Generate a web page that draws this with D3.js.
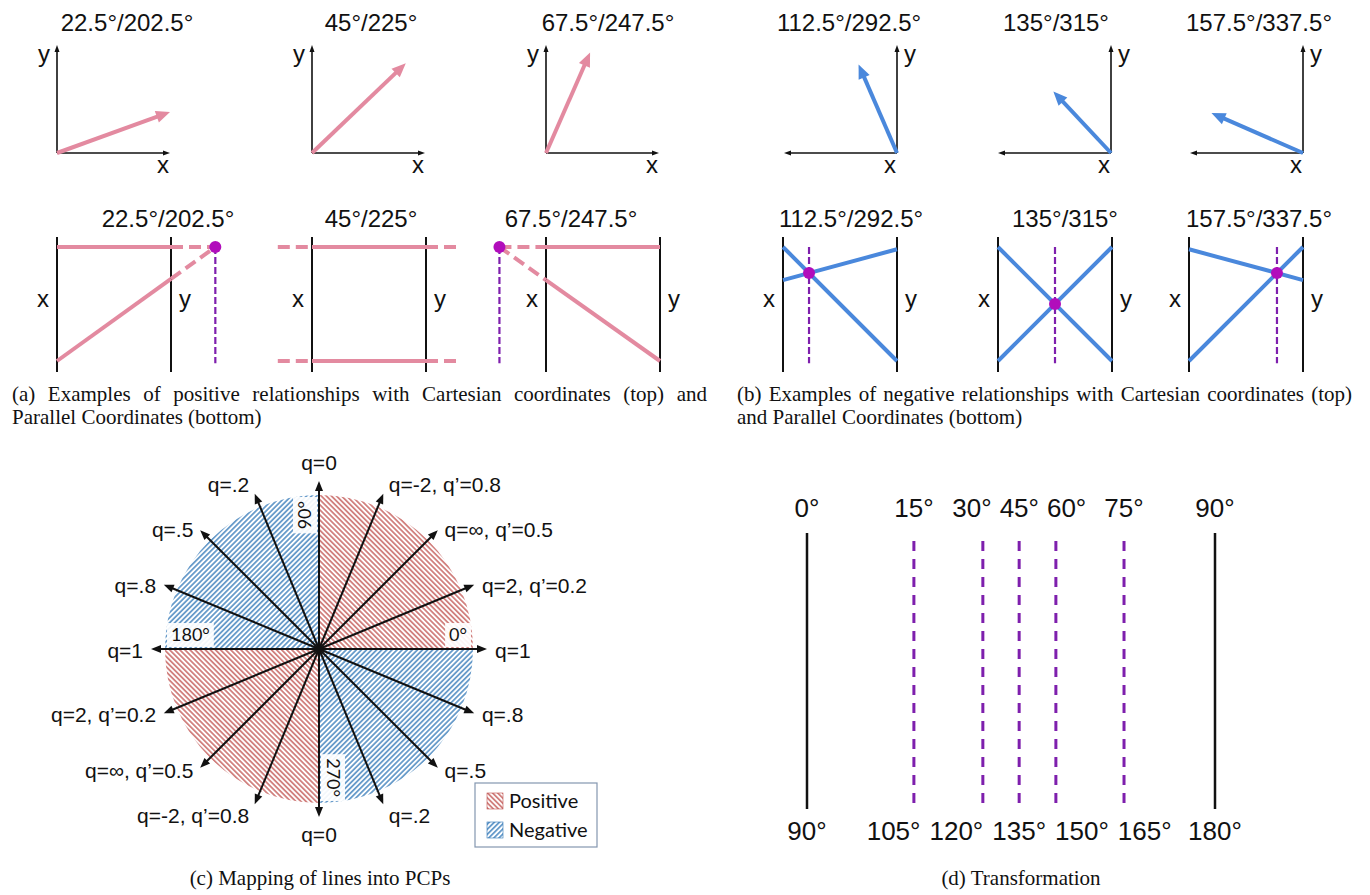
<!DOCTYPE html>
<html>
<head>
<meta charset="utf-8">
<script src="https://cdn.jsdelivr.net/npm/d3@7"></script>
<style>
  body { margin: 0; background: #fff; }
  svg text { font-family: "Liberation Sans", Arial, sans-serif; fill: #111; }
  svg text.cap { font-family: "Liberation Serif", "Times New Roman", serif; font-size: 21px; }
  svg text.cal { font-family: Lato, "Open Sans", sans-serif; }
</style>
</head>
<body>
<svg id="fig" width="1370" height="895"></svg>
<script>
// ---------- data ----------
// (a)/(b) top: vector tips in axis units (x measured along the drawn x axis, y upward)
const posTitles = ["22.5°/202.5°", "45°/225°", "67.5°/247.5°"];
const negTitles = ["112.5°/292.5°", "135°/315°", "157.5°/337.5°"];
const posTips = [[1.0, 0.38], [0.83, 0.83], [0.39, 0.93]];
const negTips = [[0.34, 0.82], [0.51, 0.57], [0.81, 0.37]];
// (a)/(b) bottom: each PCP line as [value on x axis, value on y axis]
const posLines = [[[1, 1], [0, 0.72]], [[1, 1], [0, 0]], [[1, 1], [0.71, 0]]];
const negLines = [[[1, 0], [0.71, 0.98]], [[1, 0], [0, 1]], [[0.98, 0.71], [0, 1]]];
// (c) spokes every 22.5 degrees
const spokeAngles = [0, 22.5, 45, 67.5, 90, 112.5, 135, 157.5, 180, 202.5, 225, 247.5, 270, 292.5, 315, 337.5];
const spokeLabels = ["q=1", "q=2, q’=0.2", "q=∞, q’=0.5", "q=-2, q’=0.8", "q=0", "q=.2", "q=.5", "q=.8",
                     "q=1", "q=2, q’=0.2", "q=∞, q’=0.5", "q=-2, q’=0.8", "q=0", "q=.2", "q=.5", "q=.8"];
const quadrants = [[0, 90, "pos"], [90, 180, "neg"], [180, 270, "pos"], [270, 360, "neg"]];
const quadTicks = [0, 90, 180, 270];
const quadTickSide = [1, 1, -1, 1];
const legendItems = [["Positive", "pos"], ["Negative", "neg"]];
// (d) transformation
const topDeg = ["0°", "15°", "30°", "45°", "60°", "75°", "90°"];
const botDeg = ["90°", "105°", "120°", "135°", "150°", "165°", "180°"];
const transPos = [0, 0.262, 0.431, 0.52, 0.61, 0.777, 1];

// ---------- colours ----------
const pink = "#e38aa0", blue = "#4a88dc", purple = "#7e1fad", dotCol = "#b10dbb";
const hatchRed = "#c0504d", hatchBlue = "#2e75b6";

const svg = d3.select("#fig");
const defs = svg.append("defs");

function hatch(id, color, angle) {
  const p = defs.append("pattern").attr("id", id)
    .attr("patternUnits", "userSpaceOnUse").attr("width", 3.6).attr("height", 3.6)
    .attr("patternTransform", `rotate(${angle})`);
  p.append("line").attr("x1", 1.8).attr("y1", 0).attr("x2", 1.8).attr("y2", 3.6)
    .attr("stroke", color).attr("stroke-width", 1.3);
}
hatch("pos", hatchRed, -45);
hatch("neg", hatchBlue, 45);

// arrow: shaft + filled head
function arrow(g, x1, y1, x2, y2, color, width, len, wid) {
  const a = Math.atan2(y2 - y1, x2 - x1), c = Math.cos(a), s = Math.sin(a);
  g.append("line").attr("x1", x1).attr("y1", y1)
    .attr("x2", x2 - c * len * 0.6).attr("y2", y2 - s * len * 0.6)
    .attr("stroke", color).attr("stroke-width", width);
  const bx = x2 - c * len, by = y2 - s * len, px = -s * wid / 2, py = c * wid / 2;
  g.append("path").attr("d", `M${x2},${y2}L${bx + px},${by + py}L${bx - px},${by - py}Z`)
    .attr("fill", color);
}

function label(g, x, y, txt, size, anchor) {
  return g.append("text").attr("x", x).attr("y", y).attr("font-size", size)
    .attr("text-anchor", anchor || "middle").text(txt);
}

// ---------- (a)/(b) top: Cartesian vectors ----------
function cartesian(ox, dir, tip, color, title, titleX) {
  const g = svg.append("g");
  const xs = d3.scaleLinear().domain([0, 1]).range([ox, ox + dir * 113]);
  const ys = d3.scaleLinear().domain([0, 1]).range([153, 45]);
  arrow(g, xs(0), ys(0), xs(1), ys(0), "#111", 1.6, 7, 5);
  arrow(g, xs(0), ys(0), xs(0), ys(1), "#111", 1.6, 7, 5);
  arrow(g, xs(0), ys(0), xs(tip[0]), ys(tip[1]), color, 4, 14, 12);
  label(g, titleX, 31, title, 24);
  label(g, ox - dir * 13, 62, "y", 24);
  label(g, Math.max(xs(0), xs(1)) - 7, 173, "x", 24);
}
[57, 312, 546].forEach((ox, i) => cartesian(ox, 1, posTips[i], pink, posTitles[i], [127, 371, 608][i]));
[897, 1111, 1303].forEach((ox, i) => cartesian(ox, -1, negTips[i], blue, negTitles[i], [849, 1056, 1259][i]));

// ---------- (a)/(b) bottom: parallel coordinates ----------
function pcp(ax, lines, color, title, titleX) {
  const g = svg.append("g");
  const us = d3.scaleLinear().domain([0, 1]).range([ax, ax + 114]);
  const vs = d3.scaleLinear().domain([0, 1]).range([361, 247]);
  [0, 1].forEach(u => g.append("line").attr("x1", us(u)).attr("x2", us(u))
    .attr("y1", 237).attr("y2", 372).attr("stroke", "#111").attr("stroke-width", 2));
  const [[a1, b1], [a2, b2]] = lines;
  const den = (b1 - a1) - (b2 - a2);
  const ui = den === 0 ? null : (a2 - a1) / den;
  const seg = (l, u0, u1, dashed) => g.append("line")
    .attr("x1", us(u0)).attr("y1", vs(l[0] + (l[1] - l[0]) * u0))
    .attr("x2", us(u1)).attr("y2", vs(l[0] + (l[1] - l[0]) * u1))
    .attr("stroke", color).attr("stroke-width", 4)
    .attr("stroke-dasharray", dashed ? "12,6" : null);
  lines.forEach(l => {
    seg(l, 0, 1, false);
    if (ui === null) { seg(l, -0.3, 0, true); seg(l, 1, 1.3, true); }
    else if (ui > 1) seg(l, 1, ui, true);
    else if (ui < 0) seg(l, ui, 0, true);
  });
  if (ui !== null) {
    const vi = a1 + (b1 - a1) * ui;
    g.append("line").attr("x1", us(ui)).attr("x2", us(ui))
      .attr("y1", vs(Math.max(vi, 1))).attr("y2", vs(-0.02))
      .attr("stroke", purple).attr("stroke-width", 2.2).attr("stroke-dasharray", "7,3");
    g.append("circle").attr("cx", us(ui)).attr("cy", vs(vi)).attr("r", 6).attr("fill", dotCol);
  }
  label(g, titleX, 227, title, 24);
  label(g, us(0) - 14, 307, "x", 24);
  label(g, us(1) + 14, 307, "y", 24);
}
[57, 312, 546].forEach((ax, i) => pcp(ax, posLines[i], pink, posTitles[i], [168, 371, 571][i]));
[783, 998, 1189].forEach((ax, i) => pcp(ax, negLines[i], blue, negTitles[i], [851, 1065, 1259][i]));

// justified caption lines
function justify(str, x0, x1, y) {
  const words = str.split(" ");
  const t = svg.append("text").attr("class", "cap").attr("y", y);
  const spans = words.map(w => t.append("tspan").text(w));
  const w = spans.map(s => s.node().getComputedTextLength());
  const gap = (x1 - x0 - d3.sum(w)) / (words.length - 1);
  let x = x0;
  spans.forEach((s, i) => { s.attr("x", x); x += w[i] + gap; });
}
justify("(a) Examples of positive relationships with Cartesian coordinates (top) and", 12, 707, 401);
svg.append("text").attr("class", "cap").attr("x", 12).attr("y", 424).text("Parallel Coordinates (bottom)");
justify("(b) Examples of negative relationships with Cartesian coordinates (top)", 737, 1352, 401);
svg.append("text").attr("class", "cap").attr("x", 737).attr("y", 424).text("and Parallel Coordinates (bottom)");

// ---------- (c) mapping of lines into PCPs ----------
const cx = 319, cy = 649, R = 154, L = 168;
const gc = svg.append("g");
const rad = d3.scaleLinear().domain([0, 360]).range([0, 2 * Math.PI]);
const arc = d3.arc().innerRadius(0).outerRadius(R);
quadrants.forEach(([from, to, kind]) => {
  gc.append("path").attr("transform", `translate(${cx},${cy})`)
    .attr("d", arc({ startAngle: rad(90 - to), endAngle: rad(90 - from) }))
    .attr("fill", `url(#${kind})`);
});
// quadrant angle tags with white boxes
quadTicks.forEach((deg, i) => {
  const a = rad(deg), c = Math.cos(a), s = Math.sin(a);
  const t = gc.append("text").attr("class", "cal").attr("font-size", 18)
    .attr("text-anchor", "middle").attr("dy", "0.35em").text(deg + "°");
  const w = t.node().getComputedTextLength();
  const r = R - w / 2 - 6, off = 14 * quadTickSide[i];
  const x = cx + r * c - off * s, y = cy - r * s - off * c;
  const vertical = Math.abs(s) > 0.5;
  const rot = deg === 90 ? -90 : deg === 270 ? 90 : 0;
  t.attr("transform", `translate(${x},${y}) rotate(${rot})`);
  gc.insert("rect", "text").attr("fill", "#fff").attr("opacity", 0.92)
    .attr("x", x - (vertical ? 12 : w / 2 + 4)).attr("y", y - (vertical ? w / 2 + 4 : 12))
    .attr("width", vertical ? 24 : w + 8).attr("height", vertical ? w + 8 : 24);
});
spokeAngles.forEach((deg, i) => {
  const a = rad(deg), c = Math.cos(a), s = Math.sin(a);
  const tx = cx + L * c, ty = cy - L * s;
  arrow(gc, cx, cy, tx, ty, "#111", 2, 10, 8);
  let lx, ly, anchor;
  if (Math.abs(c) < 0.01) {
    lx = tx; ly = s > 0 ? ty - 11 : ty + 25; anchor = "middle";
  } else {
    const off = 4 + 4 * Math.abs(c);
    lx = tx + (c > 0 ? off : -off); anchor = c > 0 ? "start" : "end";
    ly = ty - 18 * Math.pow(s, 7) + 1.5 + 7;
  }
  label(gc, lx, ly, spokeLabels[i], 21, anchor);
});
gc.append("circle").attr("cx", cx).attr("cy", cy).attr("r", 4).attr("fill", "#111");
// legend
const lg = gc.append("g").attr("transform", "translate(475,783)");
lg.append("rect").attr("width", 122).attr("height", 64).attr("fill", "#fff")
  .attr("stroke", "#8497b0").attr("stroke-width", 1.2);
legendItems.forEach(([name, kind], i) => {
  lg.append("rect").attr("x", 12).attr("y", 10 + i * 29).attr("width", 16).attr("height", 16)
    .attr("fill", `url(#${kind})`).attr("stroke", kind === "pos" ? hatchRed : hatchBlue).attr("stroke-width", 0.6);
  lg.append("text").attr("class", "cal").attr("x", 34).attr("y", 18 + i * 29).attr("dy", "0.35em")
    .attr("font-size", 20).text(name);
});
svg.append("text").attr("class", "cap").attr("x", 320).attr("y", 885).attr("text-anchor", "middle")
  .text("(c) Mapping of lines into PCPs");

// ---------- (d) transformation ----------
const gd = svg.append("g");
const xd = d3.scaleLinear().domain([0, 1]).range([807, 1215]);
transPos.forEach((p, i) => {
  const edge = i === 0 || i === transPos.length - 1;
  gd.append("line").attr("x1", xd(p)).attr("x2", xd(p))
    .attr("y1", edge ? 533 : 541).attr("y2", 809)
    .attr("stroke", edge ? "#111" : purple).attr("stroke-width", edge ? 2.5 : 3)
    .attr("stroke-dasharray", edge ? null : "10,8");
});
function spread(pos, widths, gap) {
  const p = pos.slice();
  for (let k = 0; k < 300; k++) {
    for (let i = 0; i < p.length - 1; i++) {
      const need = (widths[i] + widths[i + 1]) / 2 + gap, d = p[i + 1] - p[i];
      if (d < need) { const s = (need - d) / 2; p[i] -= s; p[i + 1] += s; }
    }
  }
  return p;
}
function degRow(texts, y, gap) {
  const nodes = texts.map((t, i) => label(gd, xd(transPos[i]), y, t, 26));
  const w = nodes.map(n => n.node().getComputedTextLength());
  const xs = spread(transPos.map(xd), w, gap);
  nodes.forEach((n, i) => n.attr("x", xs[i]));
}
degRow(topDeg, 517, 8);
degRow(botDeg, 840, 9);
svg.append("text").attr("class", "cap").attr("x", 1021).attr("y", 885).attr("text-anchor", "middle")
  .text("(d) Transformation");
</script>
</body>
</html>
